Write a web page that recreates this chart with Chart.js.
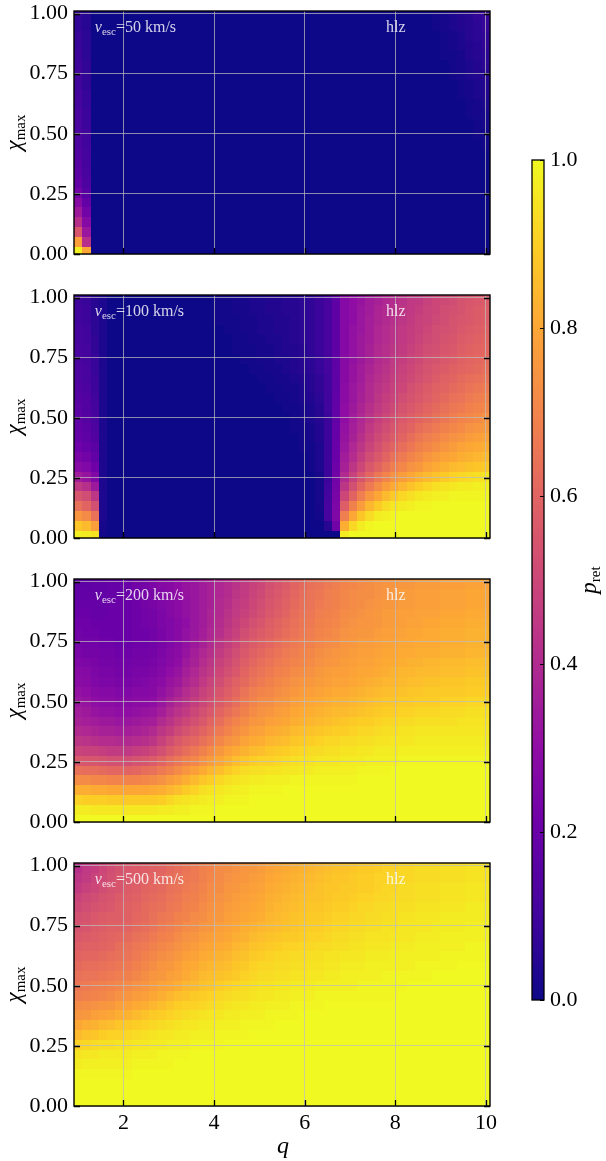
<!DOCTYPE html>
<html>
<head>
<meta charset="utf-8">
<title>p_ret heatmaps</title>
<script src="https://cdn.jsdelivr.net/npm/chart.js@4.4.1/dist/chart.umd.min.js"></script>
<style>
  html, body { margin: 0; padding: 0; background: #fff; }
  body { position: relative; width: 606px; height: 1161px; overflow: hidden; }
  canvas { position: absolute; }
</style>
</head>
<body>
<canvas id="panel0"></canvas>
<canvas id="panel1"></canvas>
<canvas id="panel2"></canvas>
<canvas id="panel3"></canvas>
<canvas id="cbar"></canvas>
<script>
// --- data -------------------------------------------------------------
const vescValues = [50, 100, 200, 500];
const regionLabel = 'hlz';

// cell centres: mass ratio q (columns) and chi_max (rows, top to bottom)
const qValues = [1.00,1.18,1.37,1.55,1.73,1.92,2.10,2.29,2.47,2.65,2.84,3.02,3.20,3.39,3.57,3.76,3.94,4.12,4.31,4.49,
  4.67,4.86,5.04,5.22,5.41,5.59,5.78,5.96,6.14,6.33,6.51,6.69,6.88,7.06,7.24,7.43,7.61,7.80,7.98,8.16,
  8.35,8.53,8.71,8.90,9.08,9.27,9.45,9.63,9.82,10.00];
const chiValues = [0.990,0.949,0.908,0.867,0.827,0.786,0.745,0.704,0.663,0.622,0.582,0.541,0.500,
  0.459,0.418,0.378,0.337,0.296,0.255,0.214,0.173,0.133,0.092,0.051,0.010];

const xTicks = [2, 4, 6, 8, 10];
const yTicks = [0, 0.25, 0.5, 0.75, 1.0];
const cbarTicks = [0, 0.2, 0.4, 0.6, 0.8, 1.0];

// p_ret, one row per chi value (top row first), one column per q value
const pRet50 = [
  [.07,.05, 0,0,0,0,0,0,0,0,0,0, 0,0,0,0,0,0,0,0,0,0, 0,0,0,0,0,0,0,0,0,0, 0,0,0,0,0,0,0,0,0,0, 0, .01,.02,.03,.04,.05,.07,.08],
  [.07,.05, 0,0,0,0,0,0,0,0,0,0, 0,0,0,0,0,0,0,0,0,0, 0,0,0,0,0,0,0,0,0,0, 0,0,0,0,0,0,0,0,0,0, 0, .01,.02,.03,.04,.05,.06,.08],
  [.08,.06, 0,0,0,0,0,0,0,0,0,0, 0,0,0,0,0,0,0,0,0,0, 0,0,0,0,0,0,0,0,0,0, 0,0,0,0,0,0,0,0,0,0, 0, 0,.01,.02,.03,.05,.06,.07],
  [.08,.06, 0,0,0,0,0,0,0,0,0,0, 0,0,0,0,0,0,0,0,0,0, 0,0,0,0,0,0,0,0,0,0, 0,0,0,0,0,0,0,0,0,0, 0, 0,.01,.02,.03,.04,.05,.07],
  [.09,.06, 0,0,0,0,0,0,0,0,0,0, 0,0,0,0,0,0,0,0,0,0, 0,0,0,0,0,0,0,0,0,0, 0,0,0,0,0,0,0,0,0,0, 0, 0,.01,.01,.02,.04,.05,.06],
  [.09,.07, 0,0,0,0,0,0,0,0,0,0, 0,0,0,0,0,0,0,0,0,0, 0,0,0,0,0,0,0,0,0,0, 0,0,0,0,0,0,0,0,0,0, 0, 0,0,.01,.02,.03,.04,.06],
  [.10,.07, 0,0,0,0,0,0,0,0,0,0, 0,0,0,0,0,0,0,0,0,0, 0,0,0,0,0,0,0,0,0,0, 0,0,0,0,0,0,0,0,0,0, 0, 0,0,.01,.02,.03,.04,.05],
  [.10,.07, 0,0,0,0,0,0,0,0,0,0, 0,0,0,0,0,0,0,0,0,0, 0,0,0,0,0,0,0,0,0,0, 0,0,0,0,0,0,0,0,0,0, 0, 0,0,0,.01,.02,.03,.04],
  [.11,.08, 0,0,0,0,0,0,0,0,0,0, 0,0,0,0,0,0,0,0,0,0, 0,0,0,0,0,0,0,0,0,0, 0,0,0,0,0,0,0,0,0,0, 0, 0,0,0,.01,.02,.03,.04],
  [.11,.08, 0,0,0,0,0,0,0,0,0,0, 0,0,0,0,0,0,0,0,0,0, 0,0,0,0,0,0,0,0,0,0, 0,0,0,0,0,0,0,0,0,0, 0, 0,0,0,0,.01,.02,.03],
  [.12,.09, 0,0,0,0,0,0,0,0,0,0, 0,0,0,0,0,0,0,0,0,0, 0,0,0,0,0,0,0,0,0,0, 0,0,0,0,0,0,0,0,0,0, 0, 0,0,0,0,.01,.02,.02],
  [.12,.09, 0,0,0,0,0,0,0,0,0,0, 0,0,0,0,0,0,0,0,0,0, 0,0,0,0,0,0,0,0,0,0, 0,0,0,0,0,0,0,0,0,0, 0, 0,0,0,0,0,.01,.02],
  [.13,.10, 0,0,0,0,0,0,0,0,0,0, 0,0,0,0,0,0,0,0,0,0, 0,0,0,0,0,0,0,0,0,0, 0,0,0,0,0,0,0,0,0,0, 0, 0,0,0,0,0,.01,.01],
  [.13,.10, 0,0,0,0,0,0,0,0,0,0, 0,0,0,0,0,0,0,0,0,0, 0,0,0,0,0,0,0,0,0,0, 0,0,0,0,0,0,0,0,0,0, 0, 0,0,0,0,0,0,.01],
  [.14,.11, 0,0,0,0,0,0,0,0,0,0, 0,0,0,0,0,0,0,0,0,0, 0,0,0,0,0,0,0,0,0,0, 0,0,0,0,0,0,0,0,0,0, 0, 0,0,0,0,0,0,0],
  [.15,.11, 0,0,0,0,0,0,0,0,0,0, 0,0,0,0,0,0,0,0,0,0, 0,0,0,0,0,0,0,0,0,0, 0,0,0,0,0,0,0,0,0,0, 0, 0,0,0,0,0,0,0],
  [.16,.12, 0,0,0,0,0,0,0,0,0,0, 0,0,0,0,0,0,0,0,0,0, 0,0,0,0,0,0,0,0,0,0, 0,0,0,0,0,0,0,0,0,0, 0, 0,0,0,0,0,0,0],
  [.18,.13, 0,0,0,0,0,0,0,0,0,0, 0,0,0,0,0,0,0,0,0,0, 0,0,0,0,0,0,0,0,0,0, 0,0,0,0,0,0,0,0,0,0, 0, 0,0,0,0,0,0,0],
  [.22,.15, 0,0,0,0,0,0,0,0,0,0, 0,0,0,0,0,0,0,0,0,0, 0,0,0,0,0,0,0,0,0,0, 0,0,0,0,0,0,0,0,0,0, 0, 0,0,0,0,0,0,0],
  [.28,.18, 0,0,0,0,0,0,0,0,0,0, 0,0,0,0,0,0,0,0,0,0, 0,0,0,0,0,0,0,0,0,0, 0,0,0,0,0,0,0,0,0,0, 0, 0,0,0,0,0,0,0],
  [.34,.22, 0,0,0,0,0,0,0,0,0,0, 0,0,0,0,0,0,0,0,0,0, 0,0,0,0,0,0,0,0,0,0, 0,0,0,0,0,0,0,0,0,0, 0, 0,0,0,0,0,0,0],
  [.42,.27, 0,0,0,0,0,0,0,0,0,0, 0,0,0,0,0,0,0,0,0,0, 0,0,0,0,0,0,0,0,0,0, 0,0,0,0,0,0,0,0,0,0, 0, 0,0,0,0,0,0,0],
  [.55,.33, 0,0,0,0,0,0,0,0,0,0, 0,0,0,0,0,0,0,0,0,0, 0,0,0,0,0,0,0,0,0,0, 0,0,0,0,0,0,0,0,0,0, 0, 0,0,0,0,0,0,0],
  [.78,.42, 0,0,0,0,0,0,0,0,0,0, 0,0,0,0,0,0,0,0,0,0, 0,0,0,0,0,0,0,0,0,0, 0,0,0,0,0,0,0,0,0,0, 0, 0,0,0,0,0,0,0],
  [.98,.80, 0,0,0,0,0,0,0,0,0,0, 0,0,0,0,0,0,0,0,0,0, 0,0,0,0,0,0,0,0,0,0, 0,0,0,0,0,0,0,0,0,0, 0, 0,0,0,0,0,0,0]
];

const pRet100 = [
  [.09,.08,.05,.03, 0,0,0,0,0,0,0,0,0,0,0,0,0, .01,.01,.02,.02,.03,.03,.04,.04,.05,.05,.06,.07,.09,.12,.17, .27,.30,.32,.35,.37,.39,.41,.43,.45,.46,.48,.50,.51,.52,.54,.55,.56,.57],
  [.10,.09,.05,.03, 0,0,0,0,0,0,0,0,0,0,0,0,0, .01,.01,.02,.02,.03,.03,.04,.04,.05,.05,.06,.07,.09,.12,.17, .27,.30,.33,.35,.38,.40,.42,.44,.45,.47,.49,.50,.52,.53,.54,.56,.57,.58],
  [.10,.09,.06,.03, 0,0,0,0,0,0,0,0,0,0,0,0,0, .01,.01,.01,.02,.02,.03,.03,.04,.04,.05,.06,.07,.09,.12,.17, .27,.30,.33,.36,.38,.40,.42,.44,.46,.48,.49,.51,.52,.54,.55,.56,.57,.58],
  [.11,.10,.06,.03, 0,0,0,0,0,0,0,0,0,0,0,0,0, 0,.01,.01,.02,.02,.03,.03,.04,.04,.05,.06,.07,.09,.12,.17, .27,.31,.33,.36,.39,.41,.43,.45,.47,.48,.50,.52,.53,.54,.56,.57,.58,.59],
  [.11,.10,.07,.03, 0,0,0,0,0,0,0,0,0,0,0,0,0, 0,0,.01,.01,.02,.02,.03,.03,.04,.05,.06,.07,.09,.12,.17, .27,.31,.34,.36,.39,.41,.43,.45,.47,.49,.51,.52,.54,.55,.57,.58,.59,.60],
  [.12,.11,.07,.03, 0,0,0,0,0,0,0,0,0,0,0,0,0, 0,0,.01,.01,.01,.02,.02,.03,.04,.04,.05,.07,.09,.12,.17, .27,.31,.34,.37,.40,.42,.44,.46,.48,.50,.52,.53,.55,.56,.58,.59,.60,.61],
  [.12,.11,.08,.03, 0,0,0,0,0,0,0,0,0,0,0,0,0, 0,0,0,.01,.01,.02,.02,.03,.03,.04,.05,.06,.08,.11,.17, .28,.31,.34,.37,.40,.42,.45,.47,.49,.51,.53,.54,.56,.57,.59,.60,.61,.62],
  [.13,.12,.08,.03, 0,0,0,0,0,0,0,0,0,0,0,0,0, 0,0,0,0,.01,.01,.02,.02,.03,.04,.05,.06,.08,.11,.17, .28,.32,.35,.38,.41,.43,.46,.48,.50,.52,.54,.56,.57,.59,.60,.61,.62,.63],
  [.13,.12,.09,.03, 0,0,0,0,0,0,0,0,0,0,0,0,0, 0,0,0,0,0,.01,.01,.02,.02,.03,.04,.05,.07,.10,.17, .28,.32,.35,.39,.42,.44,.47,.49,.51,.53,.55,.57,.59,.60,.62,.63,.64,.65],
  [.14,.13,.09,.03, 0,0,0,0,0,0,0,0,0,0,0,0,0, 0,0,0,0,0,0,.01,.01,.02,.02,.03,.05,.07,.10,.17, .29,.33,.36,.40,.43,.45,.48,.50,.53,.55,.57,.59,.60,.62,.63,.65,.66,.67],
  [.15,.14,.10,.03, 0,0,0,0,0,0,0,0,0,0,0,0,0, 0,0,0,0,0,0,0,.01,.01,.02,.03,.04,.06,.10,.18, .29,.33,.37,.40,.44,.47,.49,.52,.54,.56,.58,.60,.62,.64,.65,.67,.68,.69],
  [.16,.14,.11,.03, 0,0,0,0,0,0,0,0,0,0,0,0,0, 0,0,0,0,0,0,0,0,.01,.01,.02,.03,.05,.10,.18, .30,.34,.38,.42,.45,.48,.51,.54,.56,.58,.60,.62,.64,.66,.67,.69,.70,.71],
  [.17,.15,.12,.03, 0,0,0,0,0,0,0,0,0,0,0,0,0, 0,0,0,0,0,0,0,0,0,.01,.02,.03,.05,.09,.18, .30,.35,.39,.43,.47,.50,.53,.56,.58,.60,.62,.64,.66,.68,.70,.71,.72,.74],
  [.18,.16,.13,.03, 0,0,0,0,0,0,0,0,0,0,0,0,0, 0,0,0,0,0,0,0,0,0,.01,.01,.02,.04,.09,.19, .31,.36,.40,.45,.49,.52,.55,.58,.60,.63,.65,.67,.69,.71,.72,.74,.75,.76],
  [.19,.17,.14,.03, 0,0,0,0,0,0,0,0,0,0,0,0,0, 0,0,0,0,0,0,0,0,0,0,.01,.02,.04,.09,.19, .32,.37,.42,.47,.51,.54,.57,.60,.63,.66,.68,.70,.72,.74,.75,.77,.78,.79],
  [.21,.19,.16,.03, 0,0,0,0,0,0,0,0,0,0,0,0,0, 0,0,0,0,0,0,0,0,0,0,.01,.01,.03,.09,.20, .33,.39,.44,.49,.53,.57,.60,.63,.66,.69,.71,.73,.75,.77,.79,.80,.81,.82],
  [.24,.22,.18,.03, 0,0,0,0,0,0,0,0,0,0,0,0,0, 0,0,0,0,0,0,0,0,0,0,0,.01,.03,.09,.20, .35,.41,.47,.52,.56,.60,.64,.67,.70,.72,.75,.77,.79,.80,.82,.83,.84,.85],
  [.28,.26,.21,.03, 0,0,0,0,0,0,0,0,0,0,0,0,0, 0,0,0,0,0,0,0,0,0,0,0,.01,.03,.09,.21, .37,.44,.50,.56,.60,.64,.68,.71,.74,.76,.79,.81,.83,.85,.86,.87,.88,.89],
  [.35,.32,.26,.03, 0,0,0,0,0,0,0,0,0,0,0,0,0, 0,0,0,0,0,0,0,0,0,0,0,0,.02,.09,.22, .40,.48,.55,.61,.66,.70,.74,.77,.80,.83,.85,.87,.89,.91,.92,.93,.94,.95],
  [.45,.42,.34,.03, 0,0,0,0,0,0,0,0,0,0,0,0,0, 0,0,0,0,0,0,0,0,0,0,0,0,.02,.10,.23, .44,.53,.61,.67,.72,.77,.81,.84,.87,.90,.92,.94,.95,.96,.97,.97,.98,.98],
  [.55,.52,.44,.03, 0,0,0,0,0,0,0,0,0,0,0,0,0, 0,0,0,0,0,0,0,0,0,0,0,0,.02,.11,.24, .50,.60,.68,.75,.80,.85,.89,.92,.94,.96,.97,.98,.98,.99,.99,.99,.99,.99],
  [.64,.60,.53,.03, 0,0,0,0,0,0,0,0,0,0,0,0,0, 0,0,0,0,0,0,0,0,0,0,0,0,.02,.12,.25, .58,.69,.77,.84,.89,.93,.96,.97,.98,.99,.99,1,1,1,1,1,1,1],
  [.75,.72,.64,.03, 0,0,0,0,0,0,0,0,0,0,0,0,0, 0,0,0,0,0,0,0,0,0,0,0,0,.01,.12,.26, .68,.80,.88,.93,.97,.98,.99,1,1,1,1,1,1,1,1,1,1,1],
  [.88,.85,.78,.02, 0,0,0,0,0,0,0,0,0,0,0,0,0, 0,0,0,0,0,0,0,0,0,0,0,0,0,.05,.22, .82,.92,.97,.99,1,1,1,1,1,1,1,1,1,1,1,1,1,1],
  [.98,.97,.95,.01, 0,0,0,0,0,0,0,0,0,0,0,0,0, 0,0,0,0,0,0,0,0,0,0,0,0,0,0,0, .97,1,1,1,1,1,1,1,1,1,1,1,1,1,1,1,1,1]
];

const pRet200 = [
  [.17,.17,.18,.18,.19,.19,.20,.22,.23,.25, .27,.28,.30,.32,.33,.35,.37,.39,.41,.43, .46,.48,.50,.53,.55,.57,.60,.62,.64,.65, .67,.68,.70,.71,.72,.73,.74,.75,.75,.76, .76,.77,.77,.77,.78,.78,.78,.79,.79,.79],
  [.18,.18,.18,.18,.19,.19,.20,.21,.23,.24, .26,.28,.30,.32,.33,.35,.37,.39,.41,.44, .46,.49,.51,.54,.56,.58,.61,.63,.65,.66, .68,.69,.71,.72,.73,.73,.74,.75,.76,.77, .77,.78,.78,.78,.79,.79,.79,.80,.80,.80],
  [.19,.19,.19,.19,.20,.20,.20,.21,.23,.24, .26,.27,.29,.31,.33,.35,.37,.40,.42,.45, .47,.50,.52,.55,.57,.59,.62,.64,.65,.67, .68,.69,.71,.72,.73,.74,.75,.76,.76,.77, .77,.78,.78,.78,.79,.79,.79,.80,.80,.80],
  [.20,.20,.19,.19,.20,.20,.20,.21,.22,.23, .25,.27,.29,.31,.33,.35,.38,.40,.43,.46, .48,.51,.53,.56,.58,.60,.63,.65,.66,.68, .69,.70,.72,.73,.74,.75,.76,.77,.77,.78, .78,.79,.79,.79,.80,.80,.80,.81,.81,.81],
  [.21,.21,.20,.20,.20,.20,.20,.21,.22,.23, .25,.26,.28,.30,.33,.35,.38,.41,.44,.47, .50,.53,.55,.58,.60,.62,.64,.66,.67,.69, .70,.71,.73,.74,.75,.75,.76,.77,.77,.78, .79,.79,.80,.80,.81,.81,.81,.82,.82,.82],
  [.22,.21,.21,.20,.20,.20,.20,.21,.21,.22, .24,.26,.28,.31,.33,.36,.39,.42,.45,.48, .52,.55,.57,.59,.61,.63,.65,.67,.68,.70, .71,.72,.74,.75,.76,.76,.77,.78,.78,.79, .80,.80,.81,.81,.82,.82,.82,.83,.83,.83],
  [.23,.22,.22,.21,.21,.20,.20,.21,.21,.22, .24,.26,.28,.31,.34,.37,.40,.44,.47,.50, .54,.57,.59,.61,.63,.65,.67,.68,.69,.71, .72,.73,.75,.76,.77,.77,.78,.79,.79,.80, .80,.81,.81,.81,.82,.82,.82,.83,.83,.83],
  [.24,.23,.23,.22,.22,.21,.21,.22,.22,.23, .25,.27,.29,.32,.36,.39,.42,.46,.49,.52, .56,.59,.61,.63,.65,.67,.68,.70,.71,.73, .74,.75,.76,.77,.78,.78,.79,.80,.80,.81, .81,.82,.82,.82,.83,.83,.83,.84,.84,.84],
  [.26,.25,.24,.23,.23,.22,.22,.23,.23,.24, .26,.28,.30,.34,.37,.41,.44,.48,.51,.54, .58,.61,.63,.65,.67,.68,.70,.71,.72,.74, .75,.76,.77,.78,.79,.79,.80,.81,.81,.82, .83,.83,.84,.84,.85,.85,.85,.86,.86,.86],
  [.28,.27,.25,.24,.24,.23,.23,.24,.24,.25, .27,.30,.32,.36,.39,.43,.46,.50,.53,.56, .60,.63,.65,.67,.69,.70,.72,.73,.74,.76, .77,.78,.78,.79,.80,.80,.81,.82,.83,.84, .84,.85,.85,.85,.86,.86,.86,.87,.87,.87],
  [.29,.28,.26,.25,.25,.24,.24,.25,.26,.27, .29,.32,.34,.38,.41,.45,.49,.52,.56,.59, .62,.65,.67,.69,.71,.72,.74,.75,.76,.77, .78,.79,.79,.80,.81,.82,.83,.84,.84,.85, .86,.86,.87,.87,.88,.88,.88,.89,.89,.89],
  [.31,.30,.28,.27,.27,.26,.26,.27,.27,.28, .31,.34,.37,.41,.44,.48,.51,.55,.58,.61, .65,.68,.70,.71,.73,.74,.76,.77,.78,.79, .80,.81,.81,.82,.83,.84,.85,.86,.86,.87, .88,.88,.89,.89,.89,.89,.89,.90,.90,.90],
  [.33,.32,.30,.29,.29,.28,.28,.29,.29,.30, .33,.37,.40,.43,.47,.50,.53,.57,.60,.63, .67,.70,.72,.73,.75,.76,.78,.79,.80,.81, .82,.83,.83,.84,.85,.86,.87,.88,.88,.89, .89,.90,.90,.90,.91,.91,.91,.92,.92,.92],
  [.35,.34,.32,.31,.31,.30,.30,.31,.32,.33, .36,.40,.43,.46,.50,.53,.56,.60,.63,.66, .69,.72,.74,.75,.77,.78,.80,.81,.82,.83, .84,.85,.85,.86,.87,.88,.89,.90,.90,.91, .91,.92,.92,.92,.93,.93,.93,.94,.94,.94],
  [.37,.36,.35,.34,.34,.33,.33,.34,.35,.36, .40,.43,.47,.50,.53,.56,.60,.63,.67,.70, .72,.75,.76,.78,.79,.80,.82,.83,.84,.85, .86,.87,.88,.89,.90,.90,.91,.92,.92,.93, .93,.94,.94,.94,.94,.94,.95,.95,.95,.95],
  [.40,.39,.38,.37,.37,.36,.36,.37,.38,.40, .44,.47,.51,.54,.57,.60,.63,.67,.70,.73, .75,.78,.79,.81,.82,.83,.85,.86,.87,.88, .89,.90,.90,.91,.92,.92,.93,.94,.94,.95, .95,.96,.96,.96,.96,.96,.96,.96,.96,.96],
  [.44,.43,.42,.41,.41,.40,.40,.41,.42,.44, .48,.52,.56,.59,.61,.64,.67,.71,.74,.76, .79,.81,.82,.84,.85,.86,.88,.89,.90,.91, .92,.92,.93,.93,.94,.94,.95,.95,.96,.96, .96,.97,.97,.97,.97,.97,.97,.97,.97,.97],
  [.49,.48,.48,.47,.46,.46,.45,.47,.48,.50, .53,.57,.60,.63,.66,.69,.72,.76,.79,.81, .83,.85,.86,.88,.89,.90,.91,.92,.93,.93, .94,.94,.95,.95,.96,.96,.97,.97,.97,.98, .98,.98,.98,.98,.98,.98,.98,.98,.98,.98],
  [.56,.55,.55,.54,.53,.53,.52,.54,.55,.57, .60,.63,.66,.69,.71,.74,.77,.80,.83,.86, .88,.90,.91,.91,.92,.93,.94,.95,.95,.96, .96,.96,.97,.97,.97,.98,.98,.98,.98,.99, .99,.99,.99,.99,.99,.99,.99,.99,.99,.99],
  [.64,.63,.63,.62,.61,.61,.60,.61,.63,.64, .67,.69,.72,.75,.78,.81,.84,.86,.89,.91, .93,.94,.94,.95,.95,.96,.96,.97,.97,.98, .98,.98,.98,.98,.99,.99,.99,.99,1,1, 1,1,1,1,1,1,1,1,1,1],
  [.72,.72,.71,.71,.70,.70,.70,.70,.71,.72, .74,.77,.79,.82,.85,.88,.90,.92,.94,.95, .96,.97,.97,.98,.98,.98,.99,.99,.99,.99, .99,.99,.99,.99,1,1,1,1,1,1, 1,1,1,1,1,1,1,1,1,1],
  [.82,.82,.81,.81,.80,.80,.80,.80,.80,.81, .82,.84,.86,.89,.91,.94,.95,.96,.97,.98, .98,.99,.99,.99,.99,1,1,1,1,1, 1,1,1,1,1,1,1,1,1,1, 1,1,1,1,1,1,1,1,1,1],
  [.91,.90,.90,.90,.89,.89,.89,.89,.89,.89, .90,.92,.94,.95,.96,.97,.98,.98,.99,.99, .99,1,1,1,1,1,1,1,1,1, 1,1,1,1,1,1,1,1,1,1, 1,1,1,1,1,1,1,1,1,1],
  [.97,.97,.96,.96,.96,.96,.96,.96,.96,.96, .97,.97,.98,.98,.99,.99,.99,1,1,1, 1,1,1,1,1,1,1,1,1,1, 1,1,1,1,1,1,1,1,1,1, 1,1,1,1,1,1,1,1,1,1],
  [1,1,1,1,1,1,1,1,1,1, 1,1,1,1,1,1,1,1,1,1, 1,1,1,1,1,1,1,1,1,1, 1,1,1,1,1,1,1,1,1,1, 1,1,1,1,1,1,1,1,1,1]
];

const pRet500 = [
  [.42,.45,.47,.50,.52,.54,.56,.57,.58,.59, .60,.62,.63,.65,.67,.69,.70,.72,.73,.74, .75,.76,.77,.79,.80,.81,.82,.83,.84,.85, .86,.87,.87,.88,.89,.89,.90,.91,.91,.92, .92,.93,.93,.93,.94,.94,.94,.95,.95,.95],
  [.44,.46,.49,.51,.53,.55,.56,.57,.59,.60, .61,.63,.64,.66,.67,.69,.71,.72,.74,.75, .76,.77,.78,.80,.81,.82,.83,.84,.85,.86, .87,.88,.88,.89,.90,.90,.91,.91,.92,.92, .92,.93,.93,.93,.94,.94,.94,.95,.95,.95],
  [.46,.48,.50,.52,.54,.55,.57,.58,.60,.61, .62,.64,.65,.67,.68,.70,.72,.73,.75,.76, .77,.78,.79,.81,.82,.83,.84,.85,.86,.87, .88,.88,.89,.89,.90,.90,.91,.92,.92,.93, .93,.94,.94,.94,.95,.95,.95,.96,.96,.96],
  [.49,.51,.52,.54,.55,.57,.58,.59,.61,.62, .63,.65,.66,.68,.69,.71,.73,.74,.76,.77, .78,.79,.80,.82,.83,.84,.85,.86,.87,.87, .88,.89,.89,.90,.91,.91,.92,.92,.93,.93, .93,.94,.94,.94,.95,.95,.95,.96,.96,.96],
  [.51,.52,.54,.55,.56,.58,.59,.60,.62,.63, .64,.66,.67,.69,.70,.72,.74,.75,.77,.78, .79,.80,.81,.83,.84,.85,.86,.87,.88,.88, .89,.90,.90,.91,.92,.92,.93,.93,.94,.94, .94,.95,.95,.95,.96,.96,.96,.97,.97,.97],
  [.53,.54,.56,.57,.58,.58,.59,.61,.62,.64, .66,.67,.69,.70,.72,.73,.75,.76,.78,.79, .80,.81,.82,.84,.85,.86,.87,.88,.89,.89, .90,.91,.91,.92,.92,.93,.93,.94,.94,.95, .95,.96,.96,.96,.97,.97,.97,.97,.97,.97],
  [.54,.55,.57,.58,.59,.59,.60,.62,.63,.65, .67,.68,.70,.72,.73,.75,.76,.78,.79,.80, .82,.83,.84,.85,.86,.87,.88,.89,.90,.90, .91,.92,.92,.93,.93,.94,.94,.95,.95,.96, .96,.96,.96,.97,.97,.97,.97,.98,.98,.98],
  [.56,.57,.58,.59,.60,.61,.62,.64,.65,.67, .69,.70,.72,.74,.75,.77,.78,.79,.80,.82, .83,.85,.86,.87,.88,.89,.89,.90,.91,.91, .92,.93,.93,.94,.94,.95,.95,.95,.96,.96, .96,.97,.97,.97,.98,.98,.98,.98,.98,.98],
  [.58,.59,.59,.60,.61,.63,.64,.66,.67,.69, .71,.72,.74,.76,.77,.79,.80,.81,.82,.84, .85,.87,.88,.89,.90,.91,.91,.92,.92,.93, .93,.94,.94,.95,.95,.96,.96,.96,.97,.97, .97,.98,.98,.98,.98,.98,.98,.99,.99,.99],
  [.60,.61,.61,.62,.63,.64,.65,.67,.69,.71, .73,.74,.76,.78,.79,.81,.82,.83,.84,.86, .87,.89,.90,.91,.92,.92,.93,.93,.94,.94, .95,.95,.96,.96,.96,.97,.97,.97,.98,.98, .98,.98,.98,.98,.99,.99,.99,.99,.99,.99],
  [.62,.63,.63,.64,.65,.66,.67,.69,.71,.73, .75,.76,.78,.80,.81,.83,.84,.85,.86,.88, .89,.91,.92,.92,.93,.93,.94,.94,.95,.95, .96,.96,.97,.97,.97,.98,.98,.98,.98,.98, .98,.99,.99,.99,.99,.99,1,1,1,1],
  [.64,.65,.65,.66,.67,.68,.69,.71,.73,.75, .76,.78,.79,.81,.83,.85,.86,.87,.88,.89, .91,.92,.93,.93,.94,.94,.95,.95,.96,.96, .97,.97,.98,.98,.98,.98,.98,.99,.99,.99, .99,.99,.99,1,1,1,1,1,1,1],
  [.66,.67,.68,.69,.70,.71,.72,.74,.75,.77, .79,.80,.82,.84,.85,.87,.88,.90,.91,.92, .93,.94,.95,.95,.96,.96,.97,.97,.97,.98, .98,.98,.98,.98,.99,.99,.99,.99,.99,.99, 1,1,1,1,1,1,1,1,1,1],
  [.68,.69,.70,.71,.72,.74,.75,.77,.78,.80, .82,.84,.86,.87,.89,.90,.91,.92,.93,.94, .94,.95,.96,.96,.97,.97,.98,.98,.98,.99, .99,.99,.99,.99,.99,.99,.99,.99,.99,1, 1,1,1,1,1,1,1,1,1,1],
  [.72,.73,.74,.75,.76,.78,.79,.81,.82,.84, .86,.88,.90,.91,.91,.92,.93,.94,.95,.96, .96,.97,.97,.98,.98,.98,.99,.99,.99,.99, 1,1,1,1,1,1,1,1,1,1, 1,1,1,1,1,1,1,1,1,1],
  [.75,.76,.78,.79,.80,.82,.83,.85,.87,.89, .90,.91,.92,.93,.94,.95,.96,.96,.97,.97, .98,.98,.98,.99,.99,.99,.99,1,1,1, 1,1,1,1,1,1,1,1,1,1, 1,1,1,1,1,1,1,1,1,1],
  [.80,.82,.83,.85,.86,.88,.89,.90,.91,.92, .93,.94,.95,.96,.96,.97,.97,.98,.98,.98, .99,.99,.99,.99,1,1,1,1,1,1, 1,1,1,1,1,1,1,1,1,1, 1,1,1,1,1,1,1,1,1,1],
  [.85,.87,.88,.90,.91,.91,.92,.93,.94,.95, .96,.96,.97,.97,.98,.98,.98,.99,.99,.99, .99,1,1,1,1,1,1,1,1,1, 1,1,1,1,1,1,1,1,1,1, 1,1,1,1,1,1,1,1,1,1],
  [.91,.92,.93,.94,.94,.95,.95,.96,.96,.97, .97,.98,.98,.98,.99,.99,.99,.99,1,1, 1,1,1,1,1,1,1,1,1,1, 1,1,1,1,1,1,1,1,1,1, 1,1,1,1,1,1,1,1,1,1],
  [.95,.96,.96,.97,.97,.97,.97,.98,.98,.98, .99,.99,.99,.99,1,1,1,1,1,1, 1,1,1,1,1,1,1,1,1,1, 1,1,1,1,1,1,1,1,1,1, 1,1,1,1,1,1,1,1,1,1],
  [.97,.98,.98,.98,.98,.98,.98,.99,.99,.99, .99,.99,1,1,1,1,1,1,1,1, 1,1,1,1,1,1,1,1,1,1, 1,1,1,1,1,1,1,1,1,1, 1,1,1,1,1,1,1,1,1,1],
  [.99,.99,.99,.99,.99,.99,.99,1,1,1, 1,1,1,1,1,1,1,1,1,1, 1,1,1,1,1,1,1,1,1,1, 1,1,1,1,1,1,1,1,1,1, 1,1,1,1,1,1,1,1,1,1],
  [1,1,1,1,1,1,1,1,1,1, 1,1,1,1,1,1,1,1,1,1, 1,1,1,1,1,1,1,1,1,1, 1,1,1,1,1,1,1,1,1,1, 1,1,1,1,1,1,1,1,1,1],
  [1,1,1,1,1,1,1,1,1,1, 1,1,1,1,1,1,1,1,1,1, 1,1,1,1,1,1,1,1,1,1, 1,1,1,1,1,1,1,1,1,1, 1,1,1,1,1,1,1,1,1,1],
  [1,1,1,1,1,1,1,1,1,1, 1,1,1,1,1,1,1,1,1,1, 1,1,1,1,1,1,1,1,1,1, 1,1,1,1,1,1,1,1,1,1, 1,1,1,1,1,1,1,1,1,1]
];

const panels = [pRet50, pRet100, pRet200, pRet500];

// --- helpers ----------------------------------------------------------
const FONT = '"Liberation Serif", "DejaVu Serif", serif';
const TICK_FONT = { family: FONT, size: 22 };
const GRID_COLOR = 'rgba(190,190,190,0.72)';

// matplotlib "plasma", sampled every 0.1
const plasmaStops = ['#0d0887','#41049d','#6a00a8','#8f0da4','#b12a90','#cc4778',
  '#e16462','#f2844b','#fca636','#fcce25','#f0f921'].map(h => [1, 3, 5].map(k => parseInt(h.substr(k, 2), 16)));

function plasma(v) {
  v = Math.min(1, Math.max(0, v));
  const s = v * 10, i = Math.min(9, Math.floor(s)), f = s - i;
  const a = plasmaStops[i], b = plasmaStops[i + 1];
  return 'rgb(' + a.map((c, k) => Math.round(c + (b[k] - c) * f)).join(',') + ')';
}

// cell boundaries halfway between neighbouring centres (works for either sort order)
function cellEdges(arr, i) {
  const n = arr.length;
  const lo = i === 0 ? arr[0] - (arr[1] - arr[0]) / 2 : (arr[i - 1] + arr[i]) / 2;
  const hi = i === n - 1 ? arr[n - 1] + (arr[n - 1] - arr[n - 2]) / 2 : (arr[i] + arr[i + 1]) / 2;
  return [Math.min(lo, hi), Math.max(lo, hi)];
}

function buildCells(grid) {
  const cells = [];
  chiValues.forEach((chi, j) => {
    if (grid[j].length !== qValues.length) console.warn('row', j, 'has', grid[j].length, 'values');
    const [y0, y1] = cellEdges(chiValues, j);
    qValues.forEach((q, i) => {
      const [x0, x1] = cellEdges(qValues, i);
      cells.push({ x: q, y: chi, v: grid[j][i], x0, x1, y0, y1 });
    });
  });
  return cells;
}

function runWidth(ctx, parts) {
  let w = 0;
  parts.forEach(p => {
    ctx.font = (p.italic ? 'italic ' : '') + p.size + 'px ' + FONT;
    w += ctx.measureText(p.text).width;
  });
  return w;
}
function drawRun(ctx, x, y, parts) {
  parts.forEach(p => {
    ctx.font = (p.italic ? 'italic ' : '') + p.size + 'px ' + FONT;
    ctx.fillText(p.text, x, y + (p.dy || 0));
    x += ctx.measureText(p.text).width;
  });
}

// keep the plot box exactly where the layout padding puts it
function noLabelPadding(s) {
  s.paddingTop = 0; s.paddingBottom = 0; s.paddingLeft = 0; s.paddingRight = 0;
}

// heatmap cells drawn through the chart scales
const heatmapPlugin = {
  id: 'heatmap',
  beforeDatasetsDraw(chart) {
    const { ctx, chartArea: a, scales: { x, y } } = chart;
    ctx.save();
    ctx.beginPath();
    ctx.rect(a.left, a.top, a.right - a.left, a.bottom - a.top);
    ctx.clip();
    chart.data.datasets[0].data.forEach(c => {
      const px0 = Math.round(x.getPixelForValue(c.x0)), px1 = Math.round(x.getPixelForValue(c.x1));
      const py0 = Math.round(y.getPixelForValue(c.y0)), py1 = Math.round(y.getPixelForValue(c.y1));
      ctx.fillStyle = plasma(c.v);
      ctx.fillRect(px0, Math.min(py0, py1), px1 - px0, Math.abs(py1 - py0));
    });
    ctx.restore();
  }
};

// frame, inward ticks, labels
function panelDecor(vesc, isLast) {
  return {
    id: 'panelDecor',
    afterDraw(chart) {
      const { ctx, chartArea: a, scales: { x, y } } = chart;
      ctx.save();
      ctx.strokeStyle = '#000';
      ctx.lineWidth = 1.3;
      ctx.beginPath();
      x.ticks.forEach(t => {
        const px = Math.round(x.getPixelForValue(t.value)) + 0.5;
        ctx.moveTo(px, a.bottom); ctx.lineTo(px, a.bottom - 6);
      });
      y.ticks.forEach(t => {
        const py = Math.round(y.getPixelForValue(t.value)) + 0.5;
        ctx.moveTo(a.left, py); ctx.lineTo(a.left + 6, py);
        ctx.moveTo(a.right, py); ctx.lineTo(a.right - 6, py);
      });
      ctx.stroke();
      ctx.lineWidth = 1.4;
      ctx.strokeRect(a.left, a.top, a.right - a.left, a.bottom - a.top);

      // in-panel annotations
      ctx.fillStyle = 'rgba(255,255,255,0.82)';
      ctx.textBaseline = 'alphabetic';
      ctx.textAlign = 'left';
      const ty = a.top + 21;
      drawRun(ctx, a.left + 0.05 * (a.right - a.left), ty, [
        { text: 'v', size: 16, italic: true },
        { text: 'esc', size: 11, dy: 3 },
        { text: '=' + vesc + ' km/s', size: 16 }
      ]);
      drawRun(ctx, a.left + 0.75 * (a.right - a.left), ty, [{ text: regionLabel, size: 16 }]);

      // y-axis title
      ctx.fillStyle = '#000';
      ctx.translate(21, (a.top + a.bottom) / 2);
      ctx.rotate(-Math.PI / 2);
      const parts = [{ text: 'χ', size: 23, italic: true }, { text: 'max', size: 15, dy: 4 }];
      drawRun(ctx, -runWidth(ctx, parts) / 2, 0, parts);
      ctx.setTransform(1, 0, 0, 1, 0, 0);

      if (isLast) {
        ctx.textAlign = 'center';
        ctx.textBaseline = 'middle';
        ctx.font = 'italic 24px ' + FONT;
        ctx.fillText('q', 283, a.bottom + 41);
      }
      ctx.restore();
    }
  };
}

// --- panels -----------------------------------------------------------
const PLOT_TOP = 11, PLOT_STEP = 284, PLOT_H = 243;
const xMin = cellEdges(qValues, 0)[0], xMax = cellEdges(qValues, qValues.length - 1)[1];
const yMax = cellEdges(chiValues, 0)[1];

panels.forEach((grid, k) => {
  const isLast = k === panels.length - 1;
  const canvas = document.getElementById('panel' + k);
  const bottomExtra = isLast ? 55 : 18;
  canvas.width = 500;
  canvas.height = PLOT_TOP + PLOT_H + bottomExtra;
  canvas.style.left = '0px';
  canvas.style.top = (k * PLOT_STEP) + 'px';

  new Chart(canvas, {
    type: 'scatter',
    data: { datasets: [{ data: buildCells(grid), pointRadius: 0, pointHoverRadius: 0, showLine: false }] },
    options: {
      responsive: false,
      animation: false,
      events: [],
      layout: { padding: { top: PLOT_TOP, right: 10, left: 0, bottom: isLast ? 0 : bottomExtra } },
      plugins: { legend: { display: false }, tooltip: { enabled: false } },
      scales: {
        x: {
          type: 'linear', min: xMin, max: xMax,
          afterBuildTicks: s => { s.ticks = xTicks.map(v => ({ value: v })); },
          afterFit: s => { s.height = isLast ? 55 : 0; noLabelPadding(s); },
          ticks: { display: isLast, color: '#000', font: TICK_FONT, padding: 4, maxRotation: 0,
                   callback: v => String(v) },
          grid: { color: GRID_COLOR, lineWidth: 1, drawTicks: false, z: 1 },
          border: { display: false }
        },
        y: {
          type: 'linear', min: 0, max: yMax,
          afterBuildTicks: s => { s.ticks = yTicks.map(v => ({ value: v })); },
          afterFit: s => { s.width = 74; noLabelPadding(s); },
          ticks: { color: '#000', font: TICK_FONT, padding: 6, callback: v => v.toFixed(2) },
          grid: { color: GRID_COLOR, lineWidth: 1, drawTicks: false, z: 1 },
          border: { display: false }
        }
      }
    },
    plugins: [heatmapPlugin, panelDecor(vescValues[k], isLast)]
  });
});

// --- colour bar -------------------------------------------------------
const cbCanvas = document.getElementById('cbar');
cbCanvas.width = 106;
cbCanvas.height = 880;
cbCanvas.style.left = '500px';
cbCanvas.style.top = '140px';

const colorbarPlugin = {
  id: 'colorbar',
  beforeDatasetsDraw(chart) {
    const { ctx, chartArea: a, scales: { y } } = chart;
    const steps = 256;
    for (let s = 0; s < steps; s++) {
      const p0 = Math.round(y.getPixelForValue(s / steps));
      const p1 = Math.round(y.getPixelForValue((s + 1) / steps));
      ctx.fillStyle = plasma((s + 0.5) / steps);
      ctx.fillRect(a.left, p1, a.right - a.left, p0 - p1);
    }
  },
  afterDraw(chart) {
    const { ctx, chartArea: a, scales: { y } } = chart;
    ctx.save();
    ctx.strokeStyle = '#000';
    ctx.lineWidth = 1.2;
    ctx.beginPath();
    y.ticks.forEach(t => {
      const py = Math.round(y.getPixelForValue(t.value)) + 0.5;
      ctx.moveTo(a.right, py); ctx.lineTo(a.right - 4, py);
    });
    ctx.stroke();
    ctx.lineWidth = 1.3;
    ctx.strokeRect(a.left, a.top, a.right - a.left, a.bottom - a.top);
    ctx.fillStyle = '#000';
    ctx.translate(96, (a.top + a.bottom) / 2);
    ctx.rotate(-Math.PI / 2);
    const parts = [{ text: 'p', size: 23, italic: true }, { text: 'ret', size: 15, dy: 4 }];
    drawRun(ctx, -runWidth(ctx, parts) / 2, 0, parts);
    ctx.restore();
  }
};

new Chart(cbCanvas, {
  type: 'scatter',
  data: { datasets: [{ data: [], pointRadius: 0 }] },
  options: {
    responsive: false,
    animation: false,
    events: [],
    layout: { padding: { left: 32, top: 20, bottom: 20, right: 0 } },
    plugins: { legend: { display: false }, tooltip: { enabled: false } },
    scales: {
      x: { display: false, min: 0, max: 1 },
      y: {
        position: 'right', min: 0, max: 1,
        afterBuildTicks: s => { s.ticks = cbarTicks.map(v => ({ value: v })); },
        afterFit: s => { s.width = 62; noLabelPadding(s); },
        ticks: { color: '#000', font: TICK_FONT, padding: 6, callback: v => v.toFixed(1) },
        grid: { display: false, drawTicks: false },
        border: { display: false }
      }
    }
  },
  plugins: [colorbarPlugin]
});
</script>
</body>
</html>
